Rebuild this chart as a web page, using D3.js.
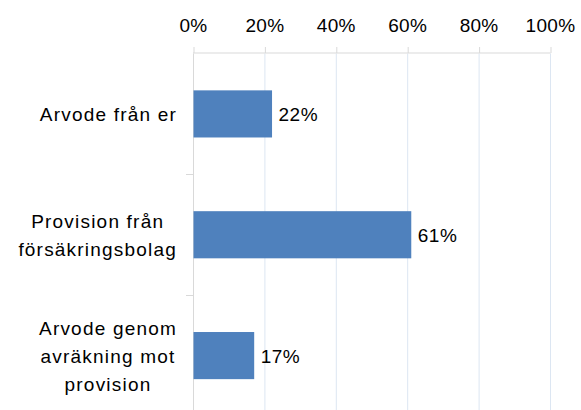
<!DOCTYPE html>
<html>
<head>
<meta charset="utf-8">
<script src="https://cdn.jsdelivr.net/npm/d3@7"></script>
<style>
  body { margin: 0; background: #fff; }
  svg { font-family: "Liberation Sans", Arial, sans-serif; }
</style>
</head>
<body>
<div id="chart"></div>
<script>
// kategorier (rader i etiketten) och andelar
const categories = ["Arvode från er", "Provision från försäkringsbolag", "Arvode genom avräkning mot provision"];
const categoryLines = [["Arvode från er"], ["Provision från", "försäkringsbolag"], ["Arvode genom", "avräkning mot", "provision"]];
const values = [0.22, 0.61, 0.17];
const tickValues = [0, 0.2, 0.4, 0.6, 0.8, 1.0];

const width = 581, height = 410;
const plotLeft = 193, plotRight = 550, plotTop = 53.5, plotBottom = 416;

const svg = d3.select("#chart").append("svg")
    .attr("width", width)
    .attr("height", height);

const x = d3.scaleLinear().domain([0, 1]).range([plotLeft, plotRight]);
const y = d3.scaleBand().domain(categories).range([plotTop, plotBottom])
    .paddingInner(0.61).paddingOuter(0.305);
const step = y.step();

// vertikala stödlinjer
svg.append("g")
    .selectAll("line")
    .data(tickValues.slice(1))
    .enter().append("line")
    .attr("x1", d => x(d) + 0.5).attr("x2", d => x(d) + 0.5)
    .attr("y1", plotTop).attr("y2", height)
    .attr("stroke", "#DCE6F2")
    .attr("stroke-width", 1);

// x-axel överst
const xAxis = svg.append("g")
    .attr("transform", "translate(0," + (plotTop - 0.5) + ")")
    .call(d3.axisTop(x).tickValues(tickValues).tickFormat(d3.format(".0%")).tickSize(6).tickPadding(15));
xAxis.select(".domain").attr("stroke", "#D9D9D9").attr("d", "M" + plotLeft + ",0H" + (plotRight + 0.5));
xAxis.selectAll(".tick line").attr("stroke", "#D9D9D9").attr("transform", "translate(0.5,0)");
xAxis.selectAll(".tick text")
    .attr("fill", "#000")
    .attr("letter-spacing", "0.3px")
    .style("font-size", "19px")
    .style("font-family", "'Liberation Sans', Arial, sans-serif");

// y-axel
svg.append("line")
    .attr("x1", plotLeft + 0.5).attr("x2", plotLeft + 0.5)
    .attr("y1", plotTop).attr("y2", height)
    .attr("stroke", "#D9D9D9");

// små streck mellan kategorierna
svg.append("g")
    .selectAll("line")
    .data(categories.slice(1))
    .enter().append("line")
    .attr("x1", plotLeft - 7).attr("x2", plotLeft)
    .attr("y1", d => Math.round(y(d) - (step - y.bandwidth()) / 2) + 0.5)
    .attr("y2", d => Math.round(y(d) - (step - y.bandwidth()) / 2) + 0.5)
    .attr("stroke", "#D9D9D9");

// staplar
svg.append("g")
    .selectAll("rect")
    .data(values)
    .enter().append("rect")
    .attr("x", x(0) + 0.5)
    .attr("y", (d, i) => y(categories[i]))
    .attr("width", d => x(d) - x(0))
    .attr("height", y.bandwidth())
    .attr("fill", "#4F81BD");

// värdeetiketter
svg.append("g")
    .selectAll("text")
    .data(values)
    .enter().append("text")
    .attr("x", d => x(d) + 7)
    .attr("y", (d, i) => y(categories[i]) + y.bandwidth() / 2 + 7)
    .attr("font-size", "19px")
    .attr("letter-spacing", "0.5px")
    .attr("fill", "#000")
    .text(d => Math.round(d * 100) + "%");

// kategorietiketter, rader centrerade i ett högerjusterat block
const lineH = 28;
const rightEdge = 177;
categoryLines.forEach((lines, i) => {
    const cy = y(categories[i]) + y.bandwidth() / 2;
    const g = svg.append("g");
    const texts = g.selectAll("text")
        .data(lines)
        .enter().append("text")
        .attr("font-size", "19px")
        .attr("letter-spacing", "1.2px")
        .attr("fill", "#000")
        .attr("text-anchor", "middle")
        .attr("y", (d, j) => cy + (j - (lines.length - 1) / 2) * lineH + 7)
        .text(d => d);
    let maxW = 0;
    texts.each(function () { maxW = Math.max(maxW, this.getComputedTextLength()); });
    texts.attr("x", rightEdge - maxW / 2);
});
</script>
</body>
</html>
